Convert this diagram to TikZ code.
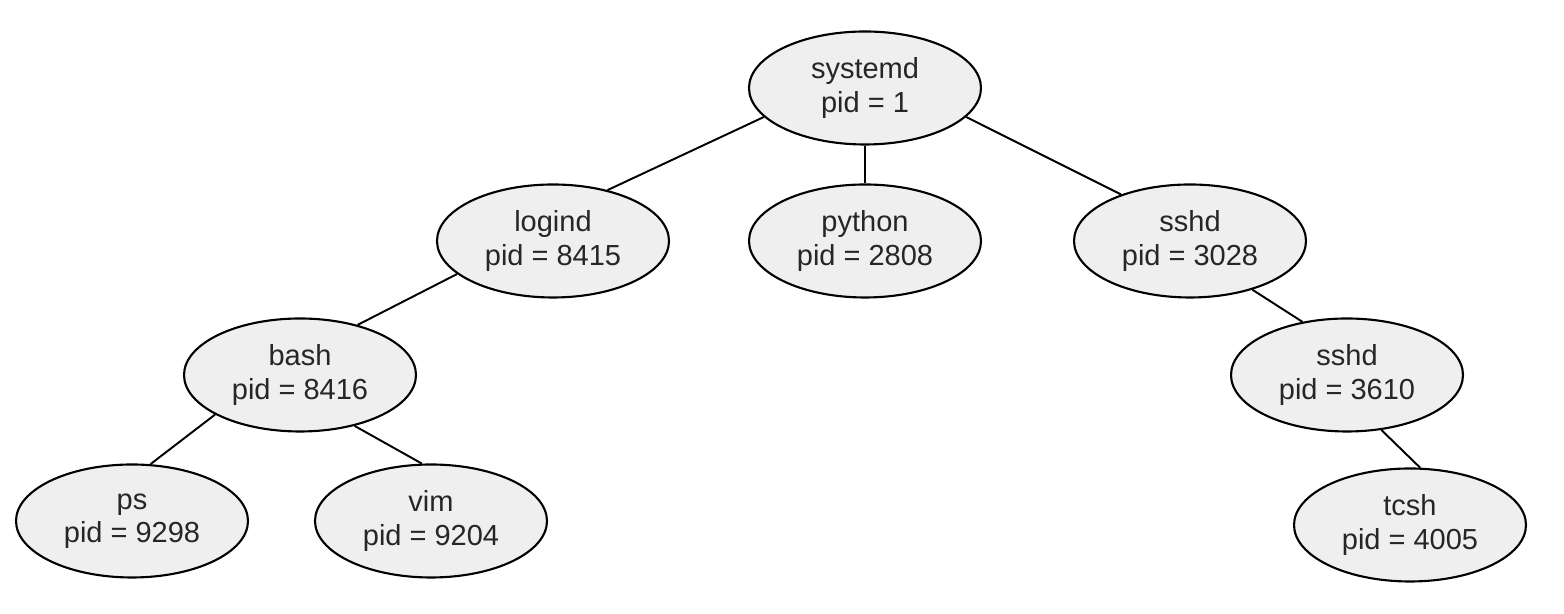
\documentclass[tikz,border=0pt]{standalone}
\usepackage{fontspec}
\setmainfont{Liberation Sans}
\usepackage{tikz}
\usetikzlibrary{shapes.geometric}

\definecolor{procfill}{HTML}{EFEFEF}
\definecolor{proctext}{HTML}{262626}

\begin{document}
\begin{tikzpicture}[
    proc/.style={ellipse, draw=black, line width=1.2pt, fill=procfill, text=proctext,
        minimum width=4.64cm, minimum height=2.26cm, inner sep=0pt,
        align=center, font=\fontsize{16.5}{19}\selectfont},
    link/.style={black, line width=1.1pt}]
            \useasboundingbox (0,0) rectangle (31.28,12.28);
            \node[proc] (systemd) at (17.30,10.52) {systemd\\pid = 1};
            \node[proc] (logind) at (11.06,7.46) {logind\\pid = 8415};
            \node[proc] (python) at (17.30,7.46) {python\\pid = 2808};
            \node[proc] (sshd) at (23.80,7.46) {sshd\\pid = 3028};
            \node[proc] (bash) at (6.00,4.78) {bash\\pid = 8416};
            \node[proc] (sshdchild) at (26.94,4.78) {sshd\\pid = 3610};
            \node[proc] (ps) at (2.64,1.86) {ps\\pid = 9298};
            \node[proc] (vim) at (8.62,1.86) {vim\\pid = 9204};
            \node[proc] (tcsh) at (28.20,1.78) {tcsh\\pid = 4005};
            \draw[link] (systemd.196.7) -- (logind.43.9);
            \draw[link] (systemd.south) -- (python.north);
            \draw[link] (systemd.344) -- (sshd.146.3);
            \draw[link] (logind.199.7) -- (bash.41.3);
            \draw[link] (bash.205.9) -- (ps.72.4);
            \draw[link] (bash.317.7) -- (vim.99);
            \draw[link] (sshd.322) -- (sshdchild.130.3);
            \draw[link] (sshdchild.302.3) -- (tcsh.80.4);
        \end{tikzpicture}
\end{document}
